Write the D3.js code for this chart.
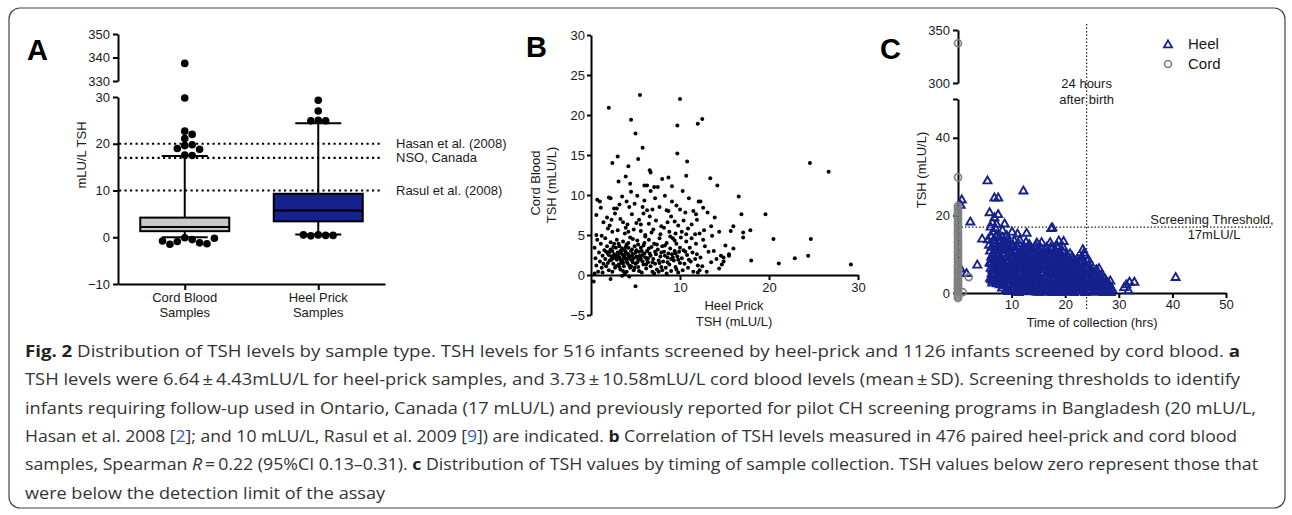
<!doctype html>
<html>
<head>
<meta charset="utf-8">
<style>
  body { margin: 0; background: #fff; }
  .caption { font-family: "Open Sans", "Noto Sans", sans-serif; font-size: 16px; fill: #333; }
</style>
<script src="https://d3js.org/d3.v7.min.js"></script>
</head>
<body>
<svg width="1292" height="515"></svg>
<script>
// ---------- data: panel A (box plot) ----------
var boxCats = ["Cord Blood", "Heel Prick"];
var boxQ1 = [1.3, 3.4];
var boxMedian = [2.2, 5.7];
var boxQ3 = [4.2, 9.3];
var whiskerLow = [0, 0.6];
var whiskerHigh = [17.4, 24.4];
var cordOutliers = [29.8, 22.7, 22.0, 21.1, 19.8, 19.6, 19.0, 18.8, 17.6, 17.5,
                    -0.1, -0.5, -0.9, -1.2, -1.5, -1.4, -0.8, -0.2];
var cordOutliersHigh = [337.5];
var heelOutliers = [29.3, 27.0, 25.0, 24.9, 24.9, 0.5, 0.4, 0.3, 0.4, 0.5];
var refValues = [20, 17, 10];
var refLabels = ["Hasan et al. (2008)", "NSO, Canada", "Rasul et al. (2008)"];

// ---------- data: panel B (heel prick TSH, cord blood TSH) ----------
var pairedTSH = [
 [2.0,20.9],[5.5,22.5],[10.0,22.0],[4.5,19.4],[5.0,17.7],[9.7,18.7],[12.0,18.9],[12.5,19.5],[5.8,15.9],[5.3,14.5],
 [9.7,15.2],[10.8,14.2],[3.0,14.8],[2.4,14.0],[4.2,13.6],[3.9,12.3],[3.1,11.7],[6.6,13.1],[6.7,12.8],[10.7,12.4],
 [8.0,12.0],[8.7,12.2],[13.4,12.1],[14.2,11.2],[6.0,11.2],[6.3,11.2],[7.1,11.0],[9.1,11.1],[4.4,11.4],[24.6,14.0],[26.7,12.9],
 [0.7,9.4],[1.0,9.2],[2.0,9.7],[2.2,9.6],[4.0,9.2],[4.5,10.4],[5.2,9.9],[6.7,10.5],[7.5,11.0],[9.1,9.2],[10.3,10.5],
 [12.1,9.2],[12.3,9.2],[16.6,9.8],[0.6,7.5],[2.6,8.3],[2.9,8.3],[4.6,7.6],[5.9,7.7],[6.3,8.1],[6.9,8.2],[7.7,8.5],
 [8.5,8.1],[8.7,8.0],[10.0,8.2],[10.6,7.8],[11.5,8.0],[11.8,7.6],[13.1,7.8],[16.9,7.6],[19.6,7.6],
 [1.4,6.6],[3.3,7.0],[3.6,6.6],[4.1,6.3],[5.4,6.9],[6.5,6.4],[7.3,6.8],[8.2,5.9],[9.4,6.7],[9.8,6.2],[10.9,5.8],
 [11.3,6.3],[12.7,5.6],[13.5,6.1],[14.4,5.4],[1.9,5.8],[2.4,5.4],[3.0,5.6],[3.8,5.2],[4.8,5.7],[5.6,5.5],[6.1,5.0],
 [6.8,5.3],[7.8,5.1],[8.8,5.4],[9.5,5.2],[10.2,5.4],[11.7,5.1],[0.6,5.0],[1.2,4.9],[16.0,6.1],[15.7,5.5],[17.1,5.3],
 [17.1,4.7],[17.9,5.6],[15.1,3.7],[16.0,3.3],[14.6,2.4],[15.5,2.6],[15.5,2.4],[14.9,1.7],[18.0,1.8],[20.5,4.5],
 [24.7,4.5],[21.1,1.45],[22.9,2.1],[24.4,2.4],[29.2,1.3],
 [1.8,7.2],[2.3,6.9],[2.7,7.7],[3.2,8.8],[3.5,9.8],[4.3,8.5],[4.9,8.9],[5.6,6.3],[6.0,9.3],[6.6,7.3],[7.2,9.6],
 [7.9,6.1],[8.3,9.9],[9.0,7.3],[9.6,8.7],[10.4,6.8],[11.0,9.6],[11.9,6.9],[12.6,8.4],[13.9,7.2],[1.1,8.4],[3.9,5.9],
 [5.1,6.5],[7.0,5.7],[8.6,6.6],[10.7,5.1],[12.2,5.2],[4.2,5.4],[2.1,6.2],[5.8,8.5],
 [0.4,3.4],[0.5,2.1],[0.6,1.2],[0.8,0.4],[0.9,2.8],[1.0,1.7],[1.1,3.9],[1.2,0.9],[1.3,2.4],[1.4,1.4],[0.7,4.4],
 [1.5,3.1],[0.4,0.2],[1.3,0.3],
 [1.6,2.0],[1.7,1.1],[1.8,3.6],[1.9,2.7],[2.0,0.6],[2.1,1.8],[2.2,4.1],[2.3,2.3],[2.4,3.0],[2.5,1.4],[2.6,2.6],
 [2.7,0.9],[2.8,3.4],[2.9,1.9],[3.0,2.8],[1.6,4.6],[1.9,1.5],[2.2,3.2],[2.5,2.1],[2.8,1.1],[2.0,2.5],[2.6,3.9],
 [1.7,2.9],[2.4,0.4],[2.9,4.4],
 [3.1,1.3],[3.2,2.2],[3.2,3.6],[3.3,0.7],[3.4,2.9],[3.5,1.8],[3.6,2.5],[3.6,4.2],[3.7,1.1],[3.8,3.1],[3.9,2.0],
 [4.0,0.4],[4.0,2.7],[4.1,1.5],[4.2,3.4],[4.3,2.3],[4.4,0.9],[4.4,4.7],[3.3,3.0],[3.5,2.6],[3.7,2.2],[3.9,2.9],
 [4.1,2.1],[4.3,1.2],[3.4,1.5],[3.0,2.4],[3.8,0.2],[4.5,3.0],[3.1,3.9],[4.2,4.0],[3.6,0.5],[4.0,3.8],
 [4.6,1.8],[4.7,2.6],[4.8,0.6],[4.9,3.6],[5.0,1.4],[5.1,2.3],[5.2,4.3],[5.3,1.0],[5.4,2.9],[5.5,1.9],[5.6,3.4],
 [5.7,0.3],[5.8,2.5],[5.9,1.3],[6.0,4.0],[4.6,3.2],[4.8,2.1],[5.0,2.8],[5.2,1.6],[5.5,2.4],[5.7,3.0],[4.9,0.9],
 [5.3,3.8],[5.8,1.7],[4.7,4.5],[5.4,0.5],[5.6,2.1],
 [6.1,2.2],[6.2,0.8],[6.3,3.0],[6.4,1.6],[6.5,4.4],[6.6,2.7],[6.7,1.1],[6.8,3.5],[6.9,0.4],[7.0,2.0],[7.1,3.9],
 [7.2,1.4],[7.3,2.6],[7.4,0.7],[7.5,3.2],[7.6,1.8],[7.7,4.6],[7.8,2.3],[7.9,1.0],[8.0,3.6],[6.3,1.9],[6.7,2.4],
 [7.1,0.2],[7.4,3.8],[6.5,3.3],[7.9,2.8],[6.9,1.6],[7.6,0.4],[6.1,4.8],[8.0,0.6],
 [8.1,1.7],[8.2,2.9],[8.4,0.9],[8.5,4.0],[8.6,2.2],[8.8,1.3],[8.9,3.3],[9.0,0.5],[9.1,2.6],[9.2,4.6],[9.3,1.8],
 [9.4,3.0],[9.5,1.0],[9.6,3.9],[9.7,2.3],[9.8,0.3],[9.9,2.9],[10.0,1.5],[8.3,3.7],[8.7,2.7],[9.0,2.0],[9.4,4.3],
 [9.8,1.9],[8.5,0.2],[9.6,0.7],[8.9,4.8],[10.0,3.4],
 [10.2,2.1],[10.3,0.6],[10.4,3.1],[10.5,1.4],[10.7,4.2],[10.8,2.5],[10.9,0.9],[11.1,3.4],[11.2,1.7],[11.4,2.8],
 [11.5,0.4],[11.7,2.0],[11.8,3.9],[12.0,1.2],[10.6,2.9],[11.0,1.9],[11.3,4.6],[11.9,2.6],[10.1,4.7],[12.0,0.3],
 [12.3,2.2],[12.5,1.1],[12.8,3.6],[13.0,0.4],[13.2,2.9],[13.5,1.6],[13.8,3.0],[14.1,2.0],[14.4,0.8],[14.7,1.3],
 [12.6,4.4],[13.6,4.9],[14.9,2.2],[12.2,0.6],
 [0.3,-0.8],[2.2,-0.5],[5.0,-1.4],[3.5,-0.1],[4.3,-0.2],
 [2.3,1.9],[2.7,2.4],[3.1,2.7],[3.3,1.9],[3.5,3.3],[3.8,2.5],[4.0,1.7],[4.2,2.6],[4.4,2.0],[4.6,2.4],[2.1,2.9],
 [2.8,2.2],[3.6,1.5],[3.9,3.5],[4.7,1.6],[5.1,3.1],[5.3,2.0],[2.5,3.5],[3.2,1.0],[4.5,1.1],[6.0,2.7],[6.4,2.1],
 [5.9,3.7],[6.2,1.3],[7.2,2.9],[7.7,1.5],[8.3,2.4],[8.6,1.6],[9.2,2.2],[9.5,2.7]
];

// ---------- data: panel C (hours after birth, TSH) ----------
var heelTiming = [
 [5.6,13.9],[5.8,12.5],[6.0,11.0],[6.2,9.5],[5.9,8.0],[6.1,6.6],[6.3,5.2],[6.0,4.0],[6.4,2.8],[6.2,14.8],[6.5,15.9],
 [6.1,17.2],[6.4,18.3],[5.9,20.9],[6.3,12.0],[6.5,10.2],[6.6,7.5],[6.5,3.3],
 [6.8,19.6],[7.0,16.8],[7.2,15.1],[6.9,13.6],[7.4,12.4],[7.1,11.3],[7.5,10.1],[6.9,9.0],[7.3,8.1],[7.6,7.0],[7.0,6.0],
 [7.4,5.0],[7.7,4.1],[7.2,3.1],[7.8,2.3],[7.9,13.3],[7.7,14.5],[7.9,9.4],[8.0,6.5],[8.0,3.5],[7.5,20.4],[7.2,17.9],
 [8.3,16.3],[8.7,18.0],[8.5,12.9],[8.8,11.6],[8.4,10.4],[8.9,9.2],[8.3,8.2],[8.7,7.1],[9.2,6.2],[8.6,5.2],[9.0,4.2],
 [8.4,3.0],[9.3,2.2],[9.5,12.1],[9.7,10.7],[9.4,8.6],[9.9,7.6],[9.6,5.6],[9.8,3.6],[9.9,1.4],[9.2,14.1],[9.1,15.0],[9.0,1.0],
 [10.1,15.9],[10.3,12.5],[10.6,11.3],[10.2,10.0],[10.8,9.1],[10.4,8.0],[10.9,6.9],[10.3,5.9],[10.7,4.9],[10.2,3.8],
 [10.8,2.8],[10.5,1.7],[10.9,0.6],[11.1,15.4],[11.3,12.9],[11.6,11.0],[11.2,9.5],[11.7,8.5],[11.4,7.4],[11.8,6.1],
 [11.3,5.1],[11.9,4.0],[11.5,3.0],[11.2,1.9],[11.8,0.9],
 [12.2,26.5],[12.8,15.6],[12.4,12.0],[12.7,13.3],[12.1,10.6],[12.6,9.6],[12.2,8.4],[12.9,7.5],[12.4,6.4],[12.8,5.3],
 [12.3,4.3],[12.9,3.4],[12.5,2.3],[12.1,1.3],[12.7,0.5],[13.3,12.7],[13.7,11.5],[13.2,10.4],[13.8,9.2],[13.4,8.1],
 [13.9,7.0],[13.3,5.9],[13.7,4.8],[13.2,3.8],[13.8,2.7],[13.4,1.6],[13.9,0.6],
 [14.3,11.7],[14.7,13.1],[14.2,10.2],[14.8,9.0],[14.4,8.0],[14.9,6.8],[14.3,5.7],[14.8,4.7],[14.4,3.6],[14.9,2.5],
 [14.3,1.4],[14.7,0.4],[15.3,12.1],[15.6,13.2],[15.2,10.6],[15.8,9.6],[15.4,8.5],[15.9,7.2],[15.3,6.2],[15.8,5.1],
 [15.4,4.0],[15.9,3.0],[15.2,1.9],[15.7,0.8],
 [16.3,11.4],[16.8,10.3],[16.2,9.1],[16.7,8.0],[16.3,6.9],[16.9,5.8],[16.4,4.6],[16.8,3.5],[16.2,2.4],[16.7,1.3],
 [16.3,0.4],[17.2,13.2],[17.6,17.0],[17.4,16.8],[17.3,12.0],[17.8,10.8],[17.2,9.7],[17.7,8.5],[17.3,7.4],[17.9,6.3],
 [17.4,5.2],[17.8,4.0],[17.2,2.9],[17.7,1.8],[17.4,0.7],
 [18.2,11.1],[18.8,13.6],[18.5,12.3],[18.3,9.9],[18.8,8.8],[18.2,7.7],[18.7,6.5],[18.3,5.4],[18.9,4.3],[18.4,3.2],
 [18.8,2.1],[18.2,1.0],[19.2,10.4],[19.7,13.5],[19.6,12.0],[19.3,9.2],[19.8,8.0],[19.2,6.9],[19.7,5.8],[19.3,4.7],
 [19.9,3.6],[19.4,2.5],[19.8,1.4],[19.3,0.3],
 [20.3,10.0],[20.9,10.3],[20.4,8.7],[20.8,7.6],[20.2,6.4],[20.7,5.3],[20.3,4.2],[20.9,3.1],[20.4,2.0],[20.8,0.9],
 [21.3,9.6],[21.8,8.5],[21.2,7.3],[21.7,6.2],[21.3,5.1],[21.9,4.0],[21.4,2.9],[21.8,1.7],[21.2,0.6],
 [22.3,9.1],[22.8,7.9],[22.2,6.7],[22.7,5.6],[22.4,4.5],[22.9,3.4],[22.3,2.3],[22.8,1.2],[23.3,11.4],[23.7,9.9],
 [23.2,8.3],[23.8,7.1],[23.3,5.9],[23.9,4.8],[23.4,3.6],[23.8,2.5],[23.2,1.3],[23.7,0.3],[24.3,8.8],
 [24.4,7.2],[24.8,6.0],[24.3,4.9],[24.9,3.8],[24.5,2.6],[24.8,1.5],[24.3,0.5],[25.4,5.4],[25.8,6.2],[25.3,4.2],
 [25.9,3.1],[25.4,2.0],[25.8,0.9],[26.3,6.5],
 [26.4,4.8],[26.8,3.6],[26.3,2.5],[26.9,1.4],[27.4,3.9],[27.8,2.8],[27.3,1.6],[27.7,0.6],[28.4,3.3],[28.3,2.0],
 [28.8,1.0],[28.5,0.3],
 [0.7,24.2],[0.5,22.8],[2.3,18.5],[0.5,6.4],[1.6,5.2],[3.6,7.4],[4.5,14.1],[5.5,29.1],[6.8,24.7],[7.5,24.7],
 [40.6,4.2],[31.4,2.3],[32.0,3.0],[32.9,3.0],[31.8,0.8],[31.0,1.6],
 [6.7,12.9],[6.8,11.1],[7.0,8.6],[6.7,6.9],[7.1,4.6],[6.9,3.9],[7.6,12.0],[7.8,11.2],[7.5,8.8],[7.9,7.4],[7.6,5.8],
 [7.8,4.8],[7.3,2.6],[6.6,13.8],[6.7,10.0],[6.3,8.8],[6.1,7.8],[6.4,6.1],[6.6,4.6],[6.2,3.6],
 [8.2,14.6],[8.6,13.8],[8.2,11.8],[8.6,9.8],[8.1,9.0],[8.5,7.7],[8.2,6.5],[8.8,6.0],[8.3,4.4],[8.8,3.6],[8.6,2.1],
 [8.2,1.5],[9.3,13.0],[9.1,11.3],[9.6,9.4],[9.2,7.9],[9.7,6.8],[9.3,5.1],[9.6,4.3],[9.2,3.2],[9.7,2.6],[9.4,0.6],
 [10.5,13.6],[10.2,12.0],[10.7,10.5],[10.3,9.3],[10.8,7.6],[10.2,7.0],[10.6,6.3],[10.4,4.3],[10.9,3.3],[10.4,2.4],
 [10.2,1.0],[11.5,13.8],[11.1,12.0],[11.6,10.0],[11.1,8.8],[11.6,7.9],[11.1,6.6],[11.6,5.6],[11.0,4.5],[11.6,3.6],
 [11.4,2.5],[11.6,1.4],[11.3,0.3],
 [12.5,11.2],[12.9,11.8],[12.3,9.9],[12.8,8.9],[12.5,7.9],[12.2,7.0],[12.6,5.9],[12.2,4.9],[12.6,3.8],[12.8,2.8],
 [12.3,1.8],[12.9,1.1],[13.5,12.0],[13.1,11.1],[13.5,9.7],[13.1,8.8],[13.6,7.5],[13.1,6.5],[13.6,5.3],[13.1,4.4],
 [13.5,3.2],[13.1,2.2],[13.6,1.1],
 [14.5,12.4],[14.1,11.0],[14.6,9.6],[14.1,8.5],[14.6,7.4],[14.1,6.2],[14.6,5.2],[14.1,4.1],[14.6,3.0],[14.1,2.0],
 [14.5,0.9],[15.5,11.4],[15.1,11.2],[15.6,10.1],[15.1,9.1],[15.6,7.9],[15.1,6.7],[15.6,5.6],[15.1,4.5],[15.6,3.5],
 [15.1,2.5],[15.5,1.4],[15.2,0.4],
 [16.5,12.0],[16.1,10.8],[16.5,9.6],[16.1,8.5],[16.6,7.4],[16.1,6.3],[16.6,5.2],[16.1,4.1],[16.6,3.0],[16.1,1.8],
 [16.6,0.8],[17.5,11.4],[17.1,10.3],[17.5,9.1],[17.1,8.0],[17.6,6.9],[17.1,5.8],[17.6,4.6],[17.1,3.5],[17.6,2.4],
 [17.1,1.3],[17.6,0.3],
 [18.6,11.7],[18.1,10.5],[18.6,9.4],[18.1,8.3],[18.5,7.1],[18.1,6.0],[18.6,4.9],[18.1,3.8],[18.6,2.7],[18.1,1.6],
 [18.6,0.5],[19.5,11.0],[19.1,9.8],[19.5,8.6],[19.1,7.5],[19.5,6.4],[19.1,5.3],[19.6,4.2],[19.1,3.1],[19.6,2.0],[19.1,0.9],
 [20.6,9.4],[20.1,9.1],[20.6,8.1],[20.1,7.0],[20.5,5.9],[20.1,4.8],[20.6,3.7],[20.1,2.6],[20.6,1.5],[20.1,0.4],
 [21.5,9.0],[21.1,8.0],[21.6,6.8],[21.1,5.7],[21.6,4.6],[21.1,3.5],[21.6,2.3],[21.1,1.2],[21.6,0.3],
 [22.5,8.5],[22.1,7.4],[22.6,6.2],[22.1,5.1],[22.6,4.0],[22.1,2.9],[22.6,1.8],[22.1,0.7],[23.5,10.5],[23.1,9.4],
 [23.5,7.7],[23.1,6.5],[23.6,5.4],[23.1,4.3],[23.6,3.1],[23.1,2.0],[23.5,0.8],
 [24.6,8.0],[24.1,6.6],[24.6,5.5],[24.1,4.3],[24.6,3.2],[24.1,2.0],[24.6,0.9],[25.1,5.8],[25.6,4.8],[25.1,3.6],
 [25.6,2.6],[25.1,1.5],[25.6,0.4],[26.1,5.6],[26.6,4.2],[26.1,3.0],[26.6,2.0],[26.1,0.9],[27.1,4.4],[27.6,3.3],
 [27.1,2.2],[27.6,1.1],[28.1,2.6],[28.6,1.5],[27.2,0.3]
];
var cordTimingValues = [-1.3,-0.9,-0.4,0.1,0.4,0.8,1.1,1.5,1.9,2.2,2.6,3.1,3.5,3.8,4.3,4.9,5.3,5.8,6.4,6.9,
 7.3,7.9,8.6,9.1,9.7,10.4,10.9,11.6,12.2,12.9,13.4,14.1,14.8,15.3,16.0,16.7,17.3,17.9,18.4,19.1,19.6,20.2,
 20.8,21.3,21.9,22.4,29.8];
var cordTimingHigh = [337.5];
var cordTimingLate = [[2.0,4.1],[0.9,0.2]];
var legendLabels = ["Heel", "Cord"];

var FONT = "'Liberation Sans', Arial, Helvetica, sans-serif";
var ink = "#1a1a1a";
var heelColor = "#15218c", cordGrey = "#808080";
var svg = d3.select("svg").attr("font-family", FONT);

// border
svg.append("rect").attr("x", 9).attr("y", 8).attr("width", 1276).attr("height", 500)
  .attr("rx", 11).attr("fill", "none").attr("stroke", "#444").attr("stroke-width", 1.2);

function styleAxis(g) {
  g.attr("font-family", FONT).attr("font-size", 13);
  g.select(".domain").attr("stroke", "#000").attr("stroke-width", 2);
  g.selectAll(".tick line").attr("stroke", "#000").attr("stroke-width", 2);
  g.selectAll(".tick text").attr("fill", ink);
}
function label(x, y, t, anchor, size) {
  return svg.append("text").attr("x", x).attr("y", y).attr("font-family", FONT)
    .attr("font-size", size || 13).attr("fill", ink).attr("text-anchor", anchor || "start").text(t);
}
function letter(x, y, t) {
  label(x, y, t, "start", 29).attr("font-weight", "bold").attr("fill", "#000");
}
function vlabel(x, y, t) {
  svg.append("text").attr("transform", "translate(" + x + "," + y + ") rotate(-90)").attr("text-anchor", "middle")
    .attr("font-family", FONT).attr("font-size", 13).attr("fill", ink).text(t);
}

// simple beeswarm: spread dots sideways when they would overlap
function swarm(values, yScale, cx, r) {
  var placed = [];
  return values.map(function(v) {
    var y = yScale(v), x = cx;
    for (var k = 0; k < 40; k++) {
      x = cx + (k % 2 ? 1 : -1) * Math.ceil(k / 2) * r * 1.95;
      if (placed.every(function(p) { return Math.hypot(p[0] - x, p[1] - y) >= 2 * r * 0.92; })) break;
    }
    placed.push([x, y]);
    return [x, y];
  });
}

// ================= panel A =================
var xA = d3.scalePoint().domain(boxCats).range([118, 385]).padding(0.5);
var yA = d3.scaleLinear().domain([-10, 30]).range([284, 97]);
var yAHigh = d3.scaleLinear().domain([330, 350]).range([81, 34]);
var fillA = d3.scaleOrdinal().domain(boxCats).range(["#c8c8c8", heelColor]);

letter(27, 60, "A");

svg.append("g").attr("transform", "translate(118,0)")
  .call(d3.axisLeft(yA).tickValues([-10, 0, 10, 20, 30]).tickSize(5).tickSizeOuter(0).tickPadding(3))
  .call(styleAxis);
svg.append("g").attr("transform", "translate(118,0)")
  .call(d3.axisLeft(yAHigh).tickValues([330, 340, 350]).tickSize(5).tickSizeOuter(0).tickPadding(3))
  .call(styleAxis);
svg.append("g").attr("transform", "translate(0,284)")
  .call(d3.axisBottom(xA).tickSize(6).tickSizeOuter(0).tickFormat(""))
  .call(styleAxis);

boxCats.forEach(function(c) {
  label(xA(c), 302, c, "middle");
  label(xA(c), 317, "Samples", "middle");
});
vlabel(86, 155, "mLU/L TSH");

// reference lines
refValues.forEach(function(v, i) {
  svg.append("line").attr("x1", 119).attr("x2", 383).attr("y1", yA(v)).attr("y2", yA(v))
    .attr("stroke", "#000").attr("stroke-width", 2.2).attr("stroke-dasharray", "2.2,3.3");
  label(396, yA(v), refLabels[i]).attr("dy", "0.35em");
});

var boxW = 89, capW = 46;
boxCats.forEach(function(c, i) {
  var cx = xA(c);
  var g = svg.append("g");
  g.append("line").attr("x1", cx).attr("x2", cx).attr("y1", yA(whiskerLow[i])).attr("y2", yA(whiskerHigh[i]))
    .attr("stroke", "#000").attr("stroke-width", 2);
  [whiskerLow[i], whiskerHigh[i]].forEach(function(w) {
    g.append("line").attr("x1", cx - capW / 2).attr("x2", cx + capW / 2).attr("y1", yA(w)).attr("y2", yA(w))
      .attr("stroke", "#000").attr("stroke-width", 2);
  });
  g.append("rect").attr("x", cx - boxW / 2).attr("width", boxW).attr("y", yA(boxQ3[i]))
    .attr("height", yA(boxQ1[i]) - yA(boxQ3[i])).attr("fill", fillA(c)).attr("stroke", "#000").attr("stroke-width", 2);
  g.append("line").attr("x1", cx - boxW / 2).attr("x2", cx + boxW / 2).attr("y1", yA(boxMedian[i])).attr("y2", yA(boxMedian[i]))
    .attr("stroke", "#000").attr("stroke-width", 2);
});

var dotR = 3.8;
function drawDots(pts) {
  svg.append("g").selectAll("circle").data(pts).join("circle")
    .attr("cx", function(d) { return d[0]; }).attr("cy", function(d) { return d[1]; })
    .attr("r", dotR).attr("fill", "#000");
}
drawDots(swarm(cordOutliers, yA, xA("Cord Blood"), dotR));
drawDots(swarm(cordOutliersHigh, yAHigh, xA("Cord Blood"), dotR));
drawDots(swarm(heelOutliers, yA, xA("Heel Prick"), dotR));

// ================= panel B =================
var xB = d3.scaleLinear().domain([0, 30]).range([591, 858]);
var yB = d3.scaleLinear().domain([-5, 30]).range([315, 35]);

letter(526, 57, "B");

svg.append("g").attr("transform", "translate(591,0)")
  .call(d3.axisLeft(yB).tickValues([-5, 0, 5, 10, 15, 20, 25, 30]).tickSize(4).tickSizeOuter(0).tickPadding(2))
  .call(styleAxis);
svg.append("g").attr("transform", "translate(0," + yB(0) + ")")
  .call(d3.axisBottom(xB).tickValues([10, 20, 30]).tickSize(5).tickSizeOuter(0).tickPadding(3))
  .call(styleAxis);

label(734, 310, "Heel Prick", "middle");
label(734, 326, "TSH (mLU/L)", "middle");
vlabel(540, 183, "Cord Blood");
vlabel(556, 185, "TSH (mLU/L)");

svg.append("g").selectAll("circle").data(pairedTSH).join("circle")
  .attr("cx", function(d) { return xB(d[0]); }).attr("cy", function(d) { return yB(d[1]); })
  .attr("r", 2).attr("fill", "#000");

// ================= panel C =================
var xC = d3.scaleLinear().domain([0, 50]).range([958, 1226]);
var yC = d3.scaleLinear().domain([0, 50]).range([293, 99]);
var yCHigh = d3.scaleLinear().domain([300, 350]).range([83, 30]);

letter(880, 59, "C");

// 24 h line and threshold line
svg.append("line").attr("x1", xC(24)).attr("x2", xC(24)).attr("y1", 24).attr("y2", 311)
  .attr("stroke", "#222").attr("stroke-width", 1.2).attr("stroke-dasharray", "1.5,2");
svg.append("line").attr("x1", xC(0)).attr("x2", 1273).attr("y1", yC(17)).attr("y2", yC(17))
  .attr("stroke", "#222").attr("stroke-width", 1.2).attr("stroke-dasharray", "1.5,2");

svg.append("g").attr("transform", "translate(958,0)")
  .call(d3.axisLeft(yC).tickValues([0, 20, 40, 50]).tickSize(5).tickSizeOuter(0).tickPadding(3)
    .tickFormat(function(d) { return d === 50 ? "" : d; }))
  .call(styleAxis);
svg.append("g").attr("transform", "translate(958,0)")
  .call(d3.axisLeft(yCHigh).tickValues([300, 350]).tickSize(5).tickSizeOuter(0).tickPadding(3))
  .call(styleAxis);
svg.append("g").attr("transform", "translate(0,293)")
  .call(d3.axisBottom(xC).tickValues([10, 20, 30, 40, 50]).tickSize(5).tickSizeOuter(0).tickPadding(2))
  .call(styleAxis);

label(1092, 327, "Time of collection (hrs)", "middle");
vlabel(926, 170, "TSH (mLU/L)");

label(xC(24), 88, "24 hours", "middle");
label(xC(24), 104, "after birth", "middle");
label(1212, 224, "Screening Threshold,", "middle");
label(1214, 239, "17mLU/L", "middle");

var tri = d3.symbol().type(d3.symbolTriangle).size(28);
svg.append("g").selectAll("path").data(heelTiming).join("path")
  .attr("transform", function(d) { return "translate(" + xC(d[0]) + "," + (yC(d[1]) + 1) + ")"; })
  .attr("d", tri).attr("fill", "none").attr("stroke", heelColor).attr("stroke-width", 1.9);

var cordPts = cordTimingValues.map(function(v) { return [xC(0), yC(v)]; })
  .concat(cordTimingHigh.map(function(v) { return [xC(0), yCHigh(v)]; }))
  .concat(cordTimingLate.map(function(d) { return [xC(d[0]), yC(d[1])]; }));
svg.append("g").selectAll("circle").data(cordPts).join("circle")
  .attr("cx", function(d) { return d[0]; }).attr("cy", function(d) { return d[1]; })
  .attr("r", 3.5).attr("fill", "none").attr("stroke", cordGrey).attr("stroke-width", 1.7);

// legend
var lg = svg.append("g").attr("transform", "translate(1168,44)");
lg.append("path").attr("d", tri).attr("transform", "translate(0,1)").attr("fill", "none")
  .attr("stroke", heelColor).attr("stroke-width", 1.8);
lg.append("circle").attr("cy", 20).attr("r", 3.5).attr("fill", "none").attr("stroke", cordGrey).attr("stroke-width", 1.7);
legendLabels.forEach(function(l, i) {
  lg.append("text").attr("x", 20).attr("y", i * 20).attr("dy", "0.36em").attr("font-family", FONT)
    .attr("font-size", 15).attr("fill", ink).text(l);
});

// ================= caption =================
var link = "#2f62c4";
var captionLines = [
  [["Fig. 2", "b"], [" Distribution of TSH levels by sample type. TSH levels for 516 infants screened by heel-prick and 1126 infants screened by cord blood. "], ["a", "b"]],
  [["TSH levels were 6.64\u2009\u00b1\u20094.43mLU/L for heel-prick samples, and 3.73\u2009\u00b1\u200910.58mLU/L cord blood levels (mean\u2009\u00b1\u2009SD). Screening thresholds to identify"]],
  [["infants requiring follow-up used in Ontario, Canada (17 mLU/L) and previously reported for pilot CH screening programs in Bangladesh (20 mLU/L,"]],
  [["Hasan et al. 2008 ["], ["2", "l"], ["]; and 10 mLU/L, Rasul et al. 2009 ["], ["9", "l"], ["]) are indicated. "], ["b", "b"], [" Correlation of TSH levels measured in 476 paired heel-prick and cord blood"]],
  [["samples, Spearman "], ["R", "i"], ["\u2009=\u20090.22 (95%CI 0.13\u20130.31). "], ["c", "b"], [" Distribution of TSH values by timing of sample collection. TSH values below zero represent those that"]],
  [["were below the detection limit of the assay"]]
];
var lineEnds = [1240, 1240, 1256, 1237, 1258, 385];
captionLines.forEach(function(segs, i) {
  var t = svg.append("text").attr("class", "caption").attr("x", 25).attr("y", 357 + i * 28.3)
    .attr("textLength", lineEnds[i] - 25).attr("lengthAdjust", "spacingAndGlyphs");
  segs.forEach(function(s) {
    var sp = t.append("tspan").text(s[0]);
    if (s[1] === "b") sp.attr("font-weight", "bold").attr("fill", "#222");
    if (s[1] === "i") sp.attr("font-style", "italic");
    if (s[1] === "l") sp.attr("fill", link);
  });
});
</script>
</body>
</html>
